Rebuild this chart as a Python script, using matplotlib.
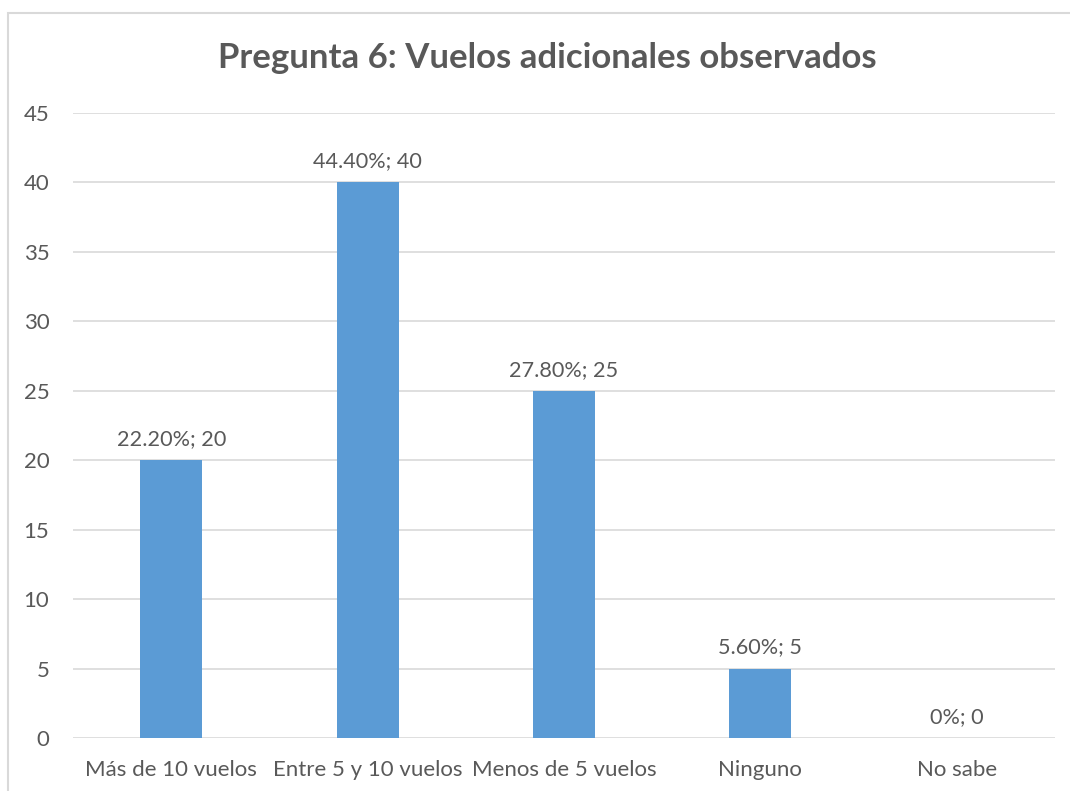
import matplotlib
matplotlib.use("Agg")
import matplotlib.pyplot as plt
from matplotlib.patches import Rectangle

categories = ["Más de 10 vuelos", "Entre 5 y 10 vuelos", "Menos de 5 vuelos", "Ninguno", "No sabe"]
counts = [20, 40, 25, 5, 0]
percents = ["22.20%", "44.40%", "27.80%", "5.60%", "0%"]
yticks = [0, 5, 10, 15, 20, 25, 30, 35, 40, 45]

text_color = "#595959"
bar_color = "#5B9BD5"
grid_color = "#D9D9D9"

plt.rcParams['font.family'] = ['Lato', 'DejaVu Sans']

fig = plt.figure(figsize=(10.7, 7.91), dpi=100)
ax = fig.add_axes([73 / 1070, 1 - 738 / 791, (1055 - 73) / 1070, (738 - 113) / 791])

# chart border (cropped on the right and bottom)
fig.patches.append(Rectangle((8 / 1070, -0.1), 1.2, 1 - 13 / 791 + 0.1,
                             transform=fig.transFigure, fill=False,
                             edgecolor=grid_color, linewidth=1.5))

x = list(range(len(categories)))
ax.bar(x, counts, width=0.315, color=bar_color, zorder=3)

for xi, c, p in zip(x, counts, percents):
    ax.text(xi, c + 0.8, f"{p}; {c}", ha="center", va="bottom",
            fontsize=15.6, color=text_color, zorder=4)

ax.set_xlim(-0.5, len(categories) - 0.5)
ax.set_ylim(0, 45)
ax.set_yticks(yticks)
ax.set_xticks(x)
ax.set_xticklabels(categories)
ax.tick_params(axis="both", length=0, labelsize=16, labelcolor=text_color)
ax.tick_params(axis="y", pad=17)
ax.tick_params(axis="x", pad=16)
ax.yaxis.grid(True, color=grid_color, linewidth=1.2, zorder=0)
for s in ax.spines.values():
    s.set_visible(False)

fig.text(547 / 1070, 1 - 58 / 791, "Pregunta 6: Vuelos adicionales observados",
         ha="center", va="center", fontsize=25, fontweight="bold", color=text_color)

fig.savefig("out.png", dpi=100)
